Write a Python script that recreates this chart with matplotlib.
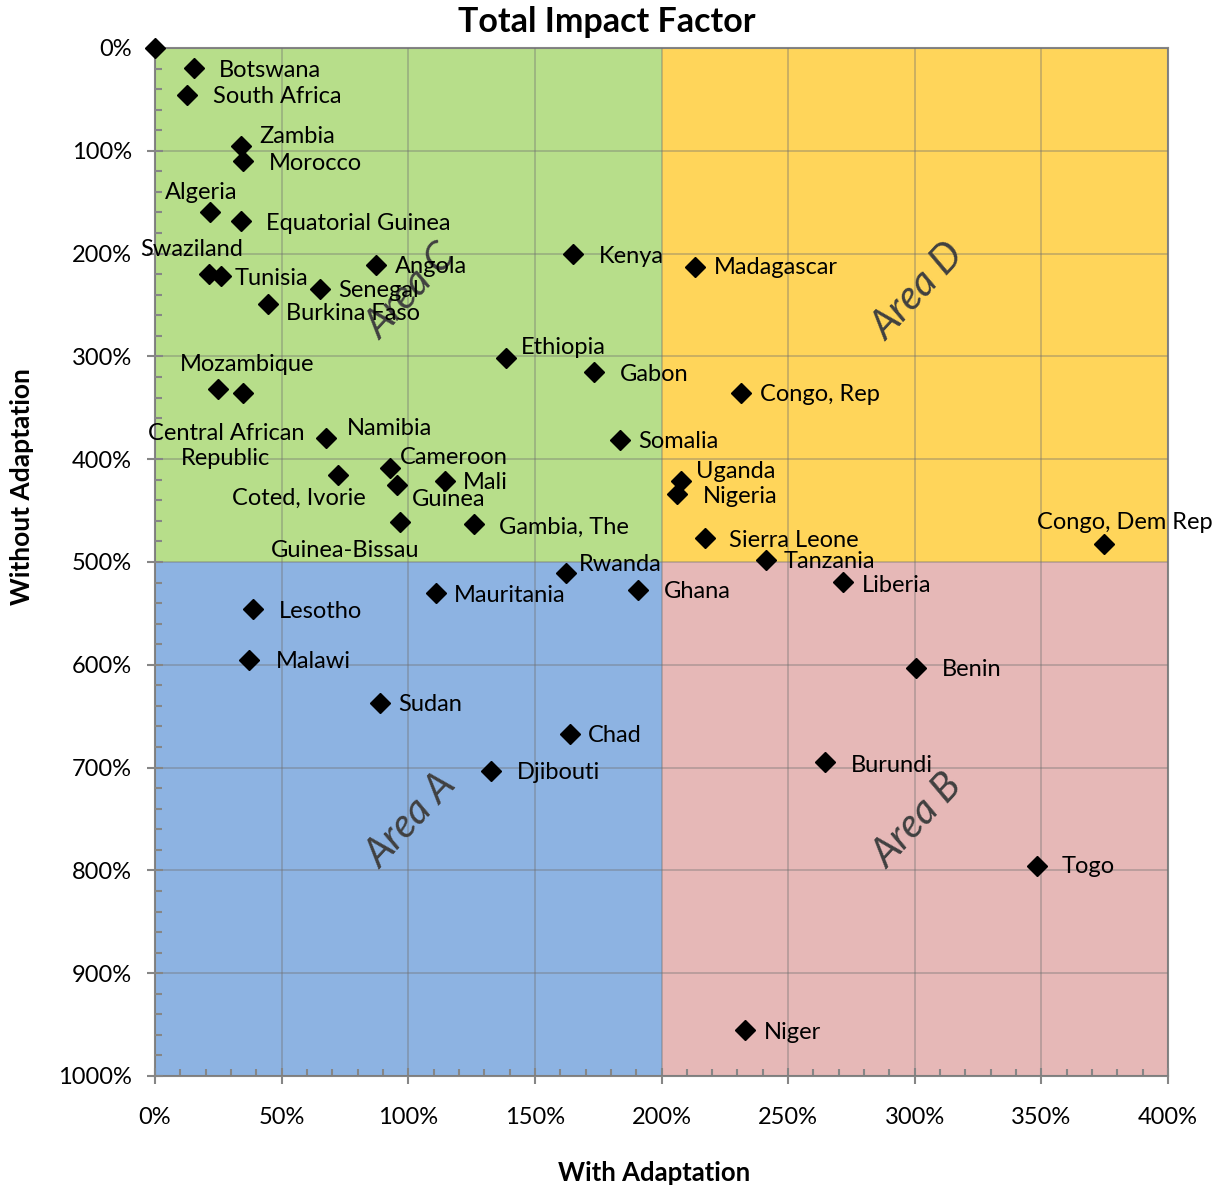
import numpy as np
import matplotlib
matplotlib.use("Agg")
import matplotlib.pyplot as plt
from matplotlib.ticker import MultipleLocator, FuncFormatter

plt.rcParams['font.family'] = ['Lato', 'DejaVu Sans']

# data (percent)
countries = ["", "Botswana", "South Africa", "Zambia", "Morocco", "Algeria",
             "Equatorial Guinea", "Swaziland", "Tunisia", "Angola", "Senegal",
             "Burkina Faso", "Kenya", "Madagascar", "Ethiopia", "Gabon",
             "Mozambique", "Central African\nRepublic", "Congo, Rep", "Namibia",
             "Somalia", "Cameroon", "Coted, Ivorie", "Mali", "Guinea", "Uganda",
             "Nigeria", "Guinea-Bissau", "Gambia, The", "Sierra Leone",
             "Congo, Dem Rep", "Tanzania", "Rwanda", "Liberia", "Mauritania",
             "Ghana", "Lesotho", "Malawi", "Benin", "Sudan", "Chad", "Burundi",
             "Djibouti", "Togo", "Niger"]
with_adapt = [0, 15.4, 12.6, 34.0, 34.7, 21.7, 34.0, 21.3, 26.1, 87.3, 65.2,
              44.6, 165.0, 213.2, 138.6, 173.3, 24.9, 34.7, 231.4, 67.5,
              183.6, 92.8, 72.3, 114.5, 95.6, 207.7, 206.1, 96.7, 126.0, 217.2,
              374.7, 241.3, 162.3, 271.7, 111.0, 190.7, 38.7, 37.1, 300.5,
              88.8, 163.9, 264.6, 132.7, 348.3, 233.0]
without_adapt = [0, 19.5, 45.7, 95.3, 110.0, 159.5, 168.3, 219.8, 221.8, 211.0,
                 234.4, 249.0, 200.4, 213.0, 301.6, 315.2, 331.7, 335.6, 335.6,
                 379.4, 381.3, 408.6, 415.4, 421.2, 425.1, 421.2, 433.9, 461.1,
                 463.0, 476.7, 482.5, 498.0, 510.7, 519.5, 530.0, 527.2, 545.7,
                 595.3, 603.1, 637.2, 667.3, 694.6, 703.3, 795.7, 955.3]

# label placement (pixel offsets from marker, horizontal alignment)
label_pos = [(0, 0, 'left'), (25, -2, 'left'), (26, -2, 'left'), (18, 9, 'left'),
             (26, -2, 'left'), (-45, 19, 'left'), (25, -2, 'left'),
             (-69, 24, 'left'), (14, -2, 'left'), (19, -2, 'left'),
             (18, -2, 'left'), (18, -10, 'left'), (26, -2, 'left'),
             (19, -1, 'left'), (15, 11, 'left'), (26, -2, 'left'),
             (-38, 24, 'left'), (-17, -53, 'center'), (19, -2, 'left'),
             (21, 10, 'left'), (18, -2, 'left'), (10, 11, 'left'),
             (-39, -23, 'center'), (18, -2, 'left'), (15, -14, 'left'),
             (15, 9, 'left'), (26, -2, 'left'), (-55, -28, 'center'),
             (25, -3, 'left'), (24, -2, 'left'), (21, 22, 'center'),
             (18, -2, 'left'), (13, 8, 'left'), (19, -3, 'left'),
             (18, -3, 'left'), (26, -2, 'left'), (26, -3, 'left'),
             (27, -2, 'left'), (26, -2, 'left'), (18, -1, 'left'),
             (18, -2, 'left'), (26, -3, 'left'), (26, -2, 'left'),
             (25, -1, 'left'), (19, -2, 'left')]

areas = ["Area A", "Area B", "Area C", "Area D"]
area_x = [0, 200, 0, 200]
area_y = [500, 500, 0, 0]
area_colors = ["#8db3e2", "#e6b8b7", "#b7de8a", "#ffd55a"]
area_text_x = [101, 301, 101, 301]
area_text_y = [752, 752, 237, 237]

fig = plt.figure(figsize=(12.25, 11.87), dpi=100)
ax = fig.add_axes([155 / 1225, 1 - 1076 / 1187, 1013 / 1225, 1028 / 1187])

for x0, y0, c in zip(area_x, area_y, area_colors):
    ax.add_patch(plt.Rectangle((x0, y0), 200, 500, facecolor=c,
                               edgecolor='none', zorder=0))

ax.set_xlim(0, 400)
ax.set_ylim(1000, 0)
ax.xaxis.set_major_locator(MultipleLocator(50))
ax.xaxis.set_minor_locator(MultipleLocator(10))
ax.yaxis.set_major_locator(MultipleLocator(100))
ax.yaxis.set_minor_locator(MultipleLocator(20))
pct = FuncFormatter(lambda v, p: "%d%%" % round(v))
ax.xaxis.set_major_formatter(pct)
ax.yaxis.set_major_formatter(pct)
ax.grid(True, which='major', color='#707070', alpha=0.4, linewidth=1.3, zorder=1)
ax.set_axisbelow(False)

for s in ax.spines.values():
    s.set_color('#868686')
    s.set_linewidth(1.5)
ax.tick_params(which='major', direction='inout', length=11, width=1.5,
               color='#868686', labelsize=17)
ax.tick_params(which='minor', direction='in', length=5, width=1.5,
               color='#868686')
ax.tick_params(axis='x', pad=17)
ax.tick_params(axis='y', pad=11)

ax.plot(with_adapt, without_adapt, linestyle='none', marker='D',
        markersize=10, color='black', zorder=5, clip_on=False)

for name, x, y, (dx, dy, ha) in zip(countries, with_adapt, without_adapt, label_pos):
    if not name:
        continue
    ax.annotate(name, (x, y), xytext=(dx, dy), textcoords='offset pixels',
                ha=ha, va='center', fontsize=17, color='black', zorder=6,
                linespacing=1.25, annotation_clip=False)

for name, x, y in zip(areas, area_text_x, area_text_y):
    ax.text(x, y, name, rotation=47, ha='center', va='center', fontsize=29,
            style='italic', color='#404040', zorder=4)

fig.text(0.4955, 1 - 22 / 1187, "Total Impact Factor", ha='center', va='center',
         fontsize=24.5, fontweight='bold')
fig.text(654 / 1225, 1 - 1173 / 1187, "With Adaptation", ha='center',
         va='center', fontsize=18.5, fontweight='bold')
fig.text(22 / 1225, 1 - 487 / 1187, "Without Adaptation", ha='center',
         va='center', rotation=90, fontsize=19, fontweight='bold')

fig.savefig("out.png", dpi=100)
